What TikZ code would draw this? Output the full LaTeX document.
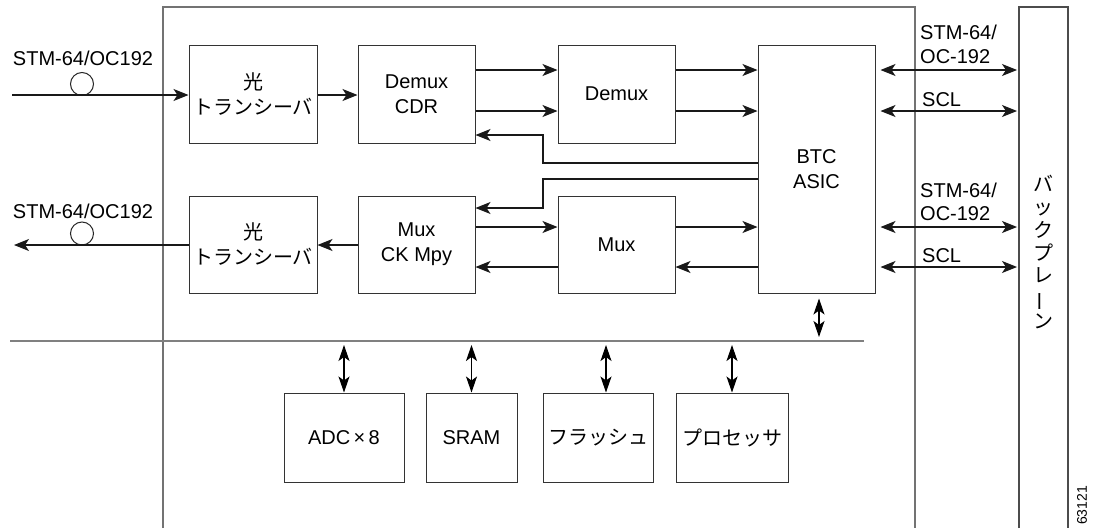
\documentclass[tikz,border=0pt]{standalone}
\usepackage{fontspec}
\usepackage{graphicx}
\setmainfont{Liberation Sans}
\newfontfamily\jp{Noto Sans CJK JP}
\usetikzlibrary{arrows.meta}
\tikzset{
  box/.style={draw=black!80, line width=1pt, inner sep=1pt, align=center,
              font=\fontsize{20}{25}\selectfont},
  jbox/.style={box, font=\jp\fontsize{20}{25}\selectfont},
  lbl/.style={inner sep=0pt, font=\fontsize{20}{24}\selectfont},
  arr/.style={-{Stealth[length=15pt,width=12pt,inset=4pt]}, line width=1.1pt, draw=black!90},
  darr/.style={{Stealth[length=15pt,width=12pt,inset=4pt]}-{Stealth[length=15pt,width=12pt,inset=4pt]}, line width=1.1pt, draw=black!90},
  varr/.style={{Stealth[length=16pt,width=11pt,inset=4pt]}-{Stealth[length=16pt,width=11pt,inset=4pt]}, line width=1.1pt},
  ring/.style={circle, draw=black!85, line width=1pt, minimum size=23pt, inner sep=0pt},
  frame/.style={draw=black!55, line width=1.5pt},
}
\begin{document}
\begin{tikzpicture}[x=1pt,y=-1pt]
\useasboundingbox (0,0) rectangle (1093,528);
% frames
\draw[frame] (163,528) -- (163,7) -- (915,7) -- (915,528);
\draw[draw=black!70, line width=1.2pt] (1019,528) -- (1019,7) -- (1068,7) -- (1068,528);
\draw[draw=black!50, line width=2pt] (10,341) -- (864,341);
% blocks
\node[jbox, minimum width=128pt, minimum height=98pt] (o1) at (253,94) {光\\トランシーバ};
\node[box, minimum width=117pt, minimum height=98pt] (cdr) at (416.5,94) {Demux\\CDR};
\node[box, minimum width=117pt, minimum height=98pt] (dmx) at (616.5,94) {Demux};
\node[box, minimum width=117pt, minimum height=248pt] (btc) at (816.5,169) {BTC\\ASIC};
\node[jbox, minimum width=128pt, minimum height=97pt] (o2) at (253,244.5) {光\\トランシーバ};
\node[box, minimum width=117pt, minimum height=97pt] (mck) at (416.5,244.5) {Mux\\CK Mpy};
\node[box, minimum width=117pt, minimum height=97pt] (mux) at (616.5,244.5) {Mux};
\node[box, minimum width=120pt, minimum height=89pt] (adc) at (344,437.5) {ADC\,×\,8};
\node[box, minimum width=91pt, minimum height=89pt] (sram) at (471.5,437.5) {SRAM};
\node[jbox, minimum width=110pt, minimum height=89pt] (flash) at (598,437.5) {フラッシュ};
\node[jbox, minimum width=112pt, minimum height=89pt] (proc) at (732,437.5) {プロセッサ};
% backplane
\node[inner sep=0pt, align=center, font=\jp\fontsize{20}{22.7}\selectfont] (bp) at (1043,252)
  {バ\\ッ\\ク\\プ\\レ\\\rotatebox[origin=c]{90}{ー}\\ン};
\node[rotate=90, inner sep=0pt, font=\fontsize{14}{14}\selectfont, anchor=west] (fig) at (1082,525) {63121};
% left side signals
\coordinate (inS) at (12,95);
\coordinate (outE) at (14,245);
\node[ring] (c1) at (82,84) {};
\node[ring] (c2) at (82,233.5) {};
\node[lbl] (l1) at (83,58) {STM-64/OC192};
\node[lbl] (l2) at (83,211) {STM-64/OC192};
\draw[arr] (inS) -- (o1.west |- inS);
\draw[arr] (o2.west |- outE) -- (outE);
% upper path
\draw[arr] (o1.east |- {(0,95)}) -- (cdr.west |- {(0,95)});
\draw[arr] (cdr.east |- {(0,70)}) -- (dmx.west |- {(0,70)});
\draw[arr] (cdr.east |- {(0,111)}) -- (dmx.west |- {(0,111)});
\draw[arr] (dmx.east |- {(0,70)}) -- (btc.west |- {(0,70)});
\draw[arr] (dmx.east |- {(0,111)}) -- (btc.west |- {(0,111)});
\draw[arr] (btc.west |- {(0,163)}) -- (543,163) -- (543,135) -- (cdr.east |- {(0,135)});
% lower path
\draw[arr] (btc.west |- {(0,179)}) -- (543,179) -- (543,208) -- (mck.east |- {(0,208)});
\draw[arr] (mck.east |- {(0,227)}) -- (mux.west |- {(0,227)});
\draw[arr] (mux.east |- {(0,227)}) -- (btc.west |- {(0,227)});
\draw[arr] (btc.west |- {(0,267)}) -- (mux.east |- {(0,267)});
\draw[arr] (mux.west |- {(0,267)}) -- (mck.east |- {(0,267)});
\draw[arr] (mck.west |- {(0,245)}) -- (o2.east |- {(0,245)});
% right side
\coordinate (bpl) at (1017,0);
\draw[darr, shorten <=5pt] (btc.east |- {(0,70)}) -- (bpl |- {(0,70)});
\draw[darr, shorten <=5pt] (btc.east |- {(0,111)}) -- (bpl |- {(0,111)});
\draw[darr, shorten <=5pt] (btc.east |- {(0,227)}) -- (bpl |- {(0,227)});
\draw[darr, shorten <=5pt] (btc.east |- {(0,267)}) -- (bpl |- {(0,267)});
\node[lbl, anchor=west] (r1) at (920,32) {STM-64/};
\node[lbl, anchor=west] (r2) at (920,57) {OC-192};
\node[lbl, anchor=west] (r3) at (922,100) {SCL};
\node[lbl, anchor=west] (r4) at (920,190) {STM-64/};
\node[lbl, anchor=west] (r5) at (920,213.5) {OC-192};
\node[lbl, anchor=west] (r6) at (922,256) {SCL};
% bus
\coordinate (busB) at (819,337);
\draw[varr, shorten <=5pt] (btc.south -| busB) -- (busB);
\draw[varr] (344,345) -- (adc.north);
\draw[varr] (471.5,345) -- (sram.north);
\draw[varr] (606,345) -- (flash.north -| {(606,0)});
\draw[varr] (732,345) -- (proc.north);
\end{tikzpicture}
\end{document}
